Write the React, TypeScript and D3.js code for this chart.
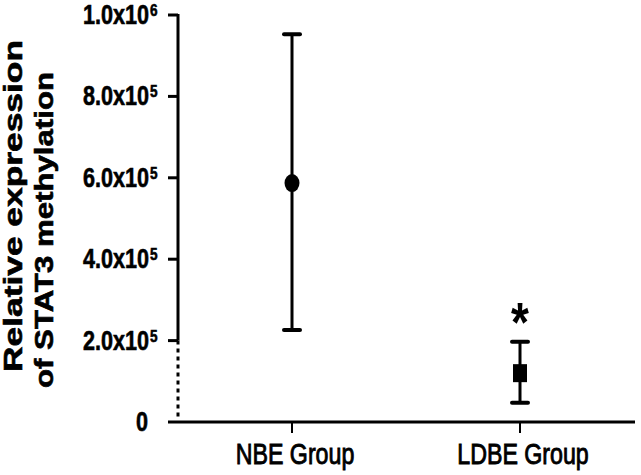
import React from "react";
import * as d3 from "d3";

const groups = ["NBE Group", "LDBE Group"];
const means = [587000, 120000];
const upper = [953000, 197000];
const lower = [226000, 47000];
const yTicks = [200000, 400000, 600000, 800000, 1000000];
const markers = ["circle", "square"];
const starred = [false, true];
const titleLines = ["Relative expression", "of STAT3 methylation"];

const W = 641;
const H = 475;

const App = () => {
  const axisX = 178;
  const axisY = 422;

  const y = d3.scaleLinear().domain([0, 1000000]).range([axisY, 15]);
  const x = d3.scalePoint().domain(groups).range([292, 520]);

  const font = "'Liberation Sans', Arial, sans-serif";
  const stroke = 3;

  const fmt = (v) => {
    const exp = Math.floor(Math.log10(v));
    return { mant: (v / Math.pow(10, exp)).toFixed(1) + "x10", exp: String(exp) };
  };

  return (
    <svg
      width={W}
      height={H}
      style={{ position: "absolute", left: 0, top: 0, background: "#fff" }}
      fontFamily={font}
    >
      {/* y axis: solid part then dotted break down to zero */}
      <line x1={axisX} x2={axisX} y1={y(1000000) - 1} y2={y(200000)} stroke="#000" strokeWidth={stroke} />
      <line
        x1={axisX}
        x2={axisX}
        y1={y(200000)}
        y2={axisY - 3}
        stroke="#000"
        strokeWidth={stroke}
        strokeDasharray="4,4"
      />
      {yTicks.map((t) => {
        const f = fmt(t);
        return (
          <g key={t} stroke="#000" strokeWidth={0.6}>
            <line x1={axisX - 10} x2={axisX} y1={y(t)} y2={y(t)} stroke="#000" strokeWidth={stroke} />
            <text
              transform={`translate(149,${y(t) + 9}) scale(0.8,1)`}
              textAnchor="end"
              fontSize={27}
              fontWeight="bold"
            >
              {f.mant}
            </text>
            <text
              transform={`translate(150,${y(t) + 1}) scale(0.8,1)`}
              fontSize={17}
              fontWeight="bold"
            >
              {f.exp}
            </text>
          </g>
        );
      })}
      <text
        transform={`translate(148,${axisY + 9}) scale(0.8,1)`}
        textAnchor="end"
        fontSize={27}
        fontWeight="bold"
        stroke="#000"
        strokeWidth={0.6}
      >
        0
      </text>

      {/* x axis */}
      <line x1={axisX - 10} x2={635} y1={axisY} y2={axisY} stroke="#000" strokeWidth={stroke} />
      {groups.map((g) => (
        <g key={g}>
          <line x1={x(g)} x2={x(g)} y1={axisY} y2={axisY + 11} stroke="#000" strokeWidth={2} />
          <text
            transform={`translate(${x(g) + 3},${axisY + 42}) scale(0.8,1)`}
            textAnchor="middle"
            fontSize={29}
            stroke="#000"
            strokeWidth={0.9}
          >
            {g}
          </text>
        </g>
      ))}

      {/* error bars and means */}
      {groups.map((g, i) => {
        const cx = x(g);
        return (
          <g key={g + "bar"}>
            <line x1={cx} x2={cx} y1={y(upper[i])} y2={y(lower[i])} stroke="#000" strokeWidth={stroke} />
            <line x1={cx - 8} x2={cx + 8} y1={y(upper[i])} y2={y(upper[i])} stroke="#000" strokeWidth={stroke + 1} strokeLinecap="round" />
            <line x1={cx - 8} x2={cx + 8} y1={y(lower[i])} y2={y(lower[i])} stroke="#000" strokeWidth={stroke + 1} strokeLinecap="round" />
            {markers[i] === "circle" ? (
              <ellipse cx={cx} cy={y(means[i])} rx={7.5} ry={9} fill="#000" />
            ) : (
              <rect x={cx - 7} y={y(means[i]) - 9} width={14} height={18} fill="#000" />
            )}
            {starred[i] && (
              <text
                transform={`translate(${cx},${y(upper[i]) - 1}) scale(1,1.2)`}
                textAnchor="middle"
                fontSize={46}
                fontWeight="bold"
              >
                *
              </text>
            )}
          </g>
        );
      })}

      {/* y title */}
      {titleLines.map((l, i) => (
        <text
          key={l}
          transform={`translate(${i === 0 ? 22 : 53},${i === 0 ? 206 : 230}) rotate(-90)`}
          textAnchor="middle"
          fontSize={25}
          fontWeight="bold"
          textLength={i === 0 ? 332 : 316}
          lengthAdjust="spacingAndGlyphs"
          stroke="#000"
          strokeWidth={0.6}
        >
          {l}
        </text>
      ))}
    </svg>
  );
};

export default App;
